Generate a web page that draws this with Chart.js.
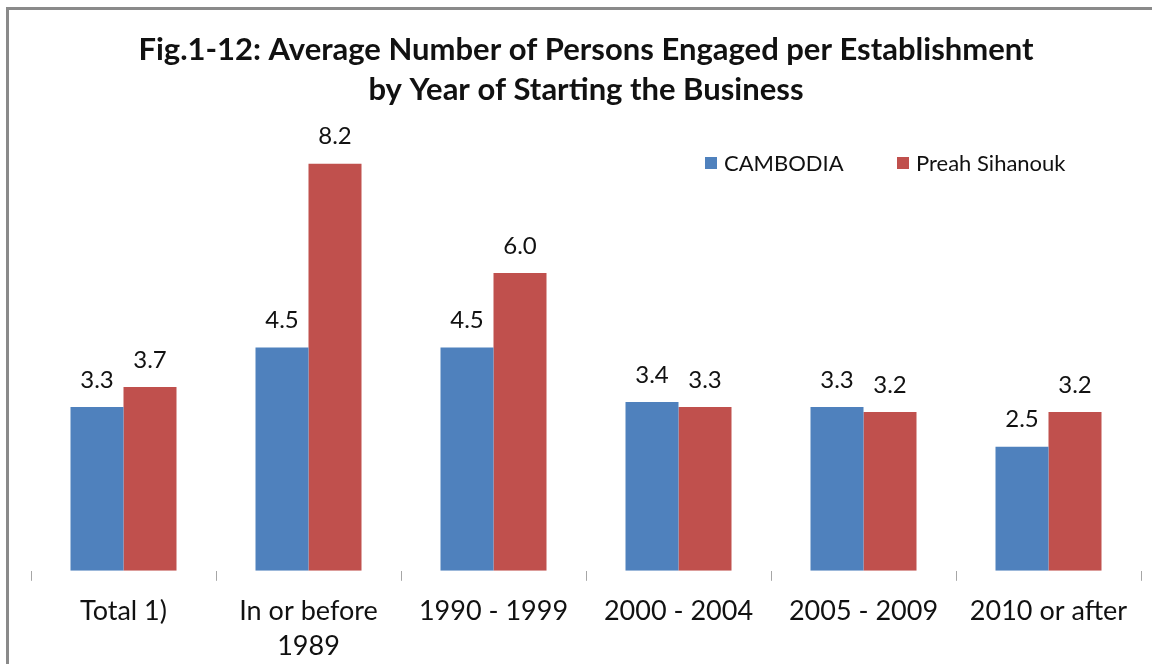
<!DOCTYPE html>
<html>
<head>
<meta charset="utf-8">
<script src="https://cdn.jsdelivr.net/npm/chart.js@4/dist/chart.umd.min.js"></script>
<style>
  html, body { margin: 0; padding: 0; background: #fff; }
  .wrap { position: relative; width: 1152px; height: 664px; overflow: hidden; }
  .frame { position: absolute; left: 6px; top: 7px; width: 1200px; height: 700px;
           border-left: 3px solid #8a8a8a; border-top: 3px solid #8a8a8a; }
  canvas { position: absolute; left: 0; top: 0; }
</style>
</head>
<body>
<div class="wrap">
  <div class="frame"></div>
  <canvas id="chart" width="1152" height="664"></canvas>
</div>
<script>
const categories = [['Total 1)'], ['In or before', '1989'], ['1990 - 1999'], ['2000 - 2004'], ['2005 - 2009'], ['2010 or after']];
const cambodia = [3.3, 4.5, 4.5, 3.4, 3.3, 2.5];
const preahSihanouk = [3.7, 8.2, 6.0, 3.3, 3.2, 3.2];
const seriesNames = ['CAMBODIA', 'Preah Sihanouk'];
const seriesColors = ['#4F81BD', '#C0504D'];
const titleLines = ['Fig.1-12: Average Number of Persons Engaged per Establishment', 'by Year of Starting the Business'];

const FONT = 'Lato, "Open Sans", sans-serif';

// value labels above each bar
const valueLabels = {
  id: 'valueLabels',
  afterDatasetsDraw(chart) {
    const ctx = chart.ctx;
    ctx.save();
    ctx.font = '24px ' + FONT;
    ctx.fillStyle = '#111';
    ctx.textAlign = 'center';
    ctx.textBaseline = 'middle';
    chart.data.datasets.forEach((ds, i) => {
      chart.getDatasetMeta(i).data.forEach((bar, j) => {
        ctx.fillText(ds.data[j].toFixed(1), bar.x, bar.y - 27);
      });
    });
    ctx.restore();
  }
};

// legend drawn inside the plot area, top right
const innerLegend = {
  id: 'innerLegend',
  afterDraw(chart) {
    const ctx = chart.ctx;
    const y = 163;
    const starts = [705, 897];
    ctx.save();
    ctx.font = '22px ' + FONT;
    ctx.textBaseline = 'middle';
    ctx.textAlign = 'left';
    chart.data.datasets.forEach((ds, i) => {
      ctx.fillStyle = ds.backgroundColor;
      ctx.fillRect(starts[i], y - 6, 12, 12);
      ctx.fillStyle = '#111';
      ctx.fillText(ds.label, starts[i] + 19, y + 1);
    });
    ctx.restore();
  }
};

new Chart(document.getElementById('chart'), {
  type: 'bar',
  data: {
    labels: categories,
    datasets: [
      { label: seriesNames[0], data: cambodia, backgroundColor: seriesColors[0] },
      { label: seriesNames[1], data: preahSihanouk, backgroundColor: seriesColors[1] }
    ]
  },
  options: {
    responsive: false,
    animation: false,
    layout: { padding: { left: 31, right: 11, top: 0, bottom: -13 } },
    datasets: { bar: { categoryPercentage: 0.573, barPercentage: 1 } },
    plugins: {
      legend: { display: false },
      tooltip: { enabled: false },
      title: {
        display: true,
        text: titleLines,
        color: '#111',
        font: { family: FONT, size: 31, weight: 'bold', lineHeight: 1.29 },
        padding: { top: 30, bottom: 14 }
      }
    },
    scales: {
      y: { display: false, min: 0, max: 9 },
      x: {
        border: { display: false },
        grid: { drawOnChartArea: false, drawTicks: true, tickLength: 10, color: '#a6a6a6' },
        ticks: {
          color: '#111',
          padding: 13,
          maxRotation: 0,
          font: { family: FONT, size: 27, lineHeight: 1.3 }
        }
      }
    }
  },
  plugins: [valueLabels, innerLegend]
});
</script>
</body>
</html>
